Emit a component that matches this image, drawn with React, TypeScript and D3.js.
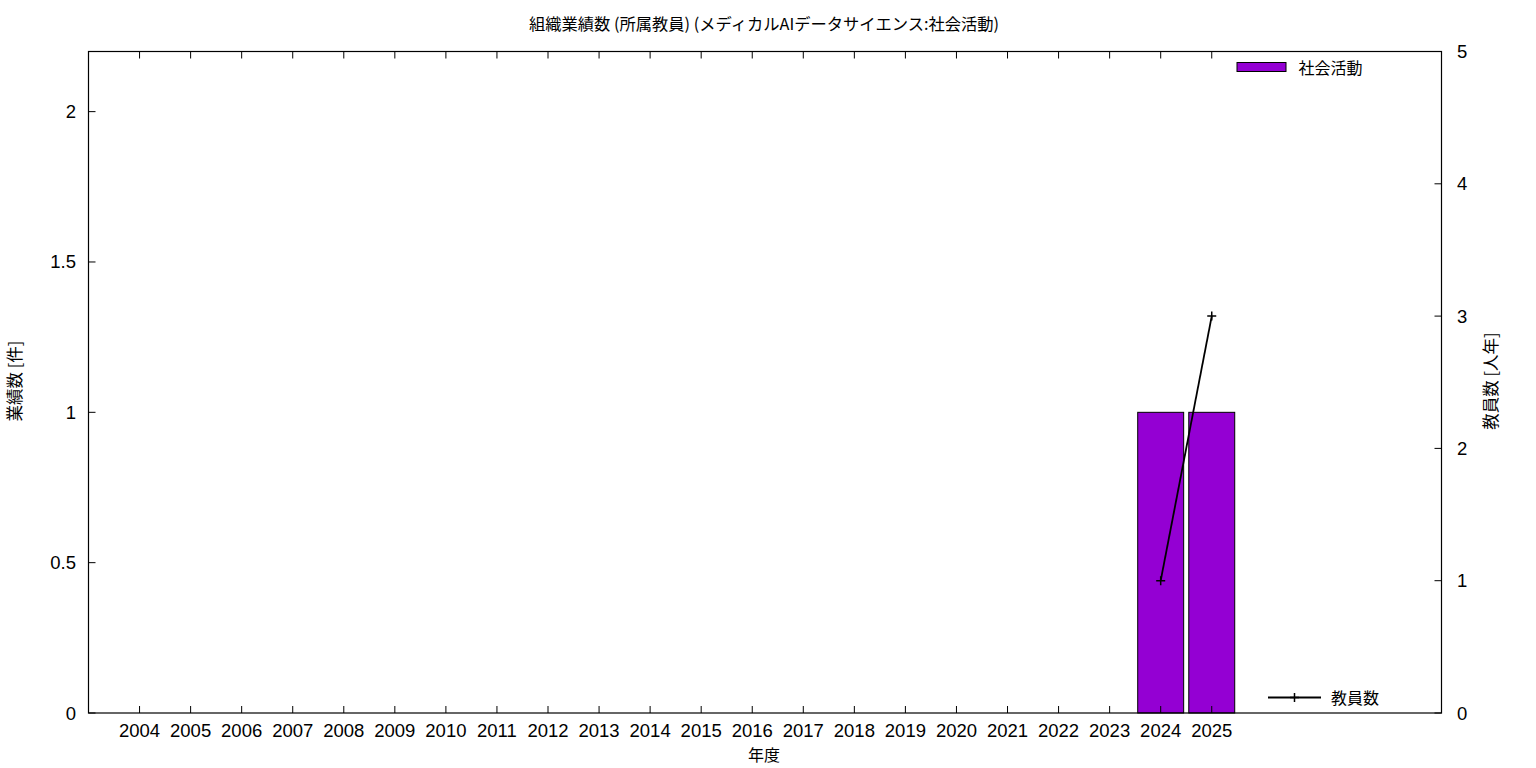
import React from "react";
import * as d3 from "d3";

const years: string[] = ["2004","2005","2006","2007","2008","2009","2010","2011","2012","2013","2014","2015","2016","2017","2018","2019","2020","2021","2022","2023","2024","2025"];
const activityCounts: number[] = [0,0,0,0,0,0,0,0,0,0,0,0,0,0,0,0,0,0,0,0,1,1];
const facultyCounts: (number | null)[] = [null,null,null,null,null,null,null,null,null,null,null,null,null,null,null,null,null,null,null,null,1,3];
const leftTicks: number[] = [0, 0.5, 1, 1.5, 2];
const rightTicks: number[] = [0, 1, 2, 3, 4, 5];

const TITLE = "組織業績数 (所属教員) (メディカルAIデータサイエンス:社会活動)";
const XLABEL = "年度";
const YLABEL = "業績数 [件]";
const Y2LABEL = "教員数 [人年]";
const BAR_LEGEND = "社会活動";
const LINE_LEGEND = "教員数";

const FONT = "'Liberation Sans', 'Noto Sans CJK JP', sans-serif";
const JFONT = "'Noto Sans CJK JP', sans-serif";

export default function App() {
  const W = 1536, H = 768;
  const L = 88.5, R = 1441.5, T = 51.5, B = 713;
  const x = d3.scaleLinear().domain([-1, 25.5]).range([L, R]);
  const y = d3.scaleLinear().domain([0, 2.2]).range([B, T]);
  const y2 = d3.scaleLinear().domain([0, 5]).range([B, T]);
  const step = x(1) - x(0);
  const bw = step * 0.9;
  const line = d3.line<[number, number | null]>()
    .defined(d => d[1] !== null)
    .x(d => x(d[0]))
    .y(d => y2(d[1] as number));
  const linePts: [number, number | null][] = facultyCounts.map((v, i) => [i, v]);
  const plus = (cx: number, cy: number, k: string) => (
    <path key={k} d={`M${cx - 4.5},${cy}H${cx + 4.5}M${cx},${cy - 4.5}V${cy + 4.5}`} stroke="#000" strokeWidth={1.5} />
  );
  return (
    <svg width={W} height={H} style={{ position: "absolute", left: 0, top: 0, background: "#fff" }}>
      <rect x={0} y={0} width={W} height={H} fill="#fff" />
      <text x={764} y={30} textAnchor="middle" fontFamily={JFONT} fontSize={16.3} fill="#000">{TITLE}</text>
      {/* bars */}
      {activityCounts.map((v, i) => v > 0 ? (
        <rect key={"b" + i} x={x(i) - bw / 2} y={y(v)} width={bw} height={y(0) - y(v)} fill="#9400D3" stroke="#000" strokeWidth={1} />
      ) : null)}
      {/* x ticks */}
      {years.map((yr, i) => (
        <g key={"xt" + i}>
          <line x1={x(i)} x2={x(i)} y1={B} y2={B - 7} stroke="#000" strokeWidth={1} />
          <line x1={x(i)} x2={x(i)} y1={T} y2={T + 7} stroke="#000" strokeWidth={1} />
          <text x={x(i)} y={B + 23.5} textAnchor="middle" fontFamily={FONT} fontSize={18.5} fill="#000">{yr}</text>
        </g>
      ))}
      {leftTicks.map((t, i) => (
        <g key={"yt" + i}>
          <line x1={L} x2={L + 7} y1={y(t)} y2={y(t)} stroke="#000" strokeWidth={1} />
          <text x={76} y={y(t) + 6.5} textAnchor="end" fontFamily={FONT} fontSize={18.5} fill="#000">{t}</text>
        </g>
      ))}
      {rightTicks.map((t, i) => (
        <g key={"y2t" + i}>
          <line x1={R} x2={R - 7} y1={y2(t)} y2={y2(t)} stroke="#000" strokeWidth={1} />
          <text x={1457} y={y2(t) + 6.5} textAnchor="start" fontFamily={FONT} fontSize={18.5} fill="#000">{t}</text>
        </g>
      ))}
      <rect x={L} y={T} width={R - L} height={B - T} fill="none" stroke="#000" strokeWidth={1.2} />
      {/* line */}
      <path d={line(linePts) || ""} fill="none" stroke="#000" strokeWidth={1.8} />
      {linePts.filter(d => d[1] !== null).map((d, i) => plus(x(d[0]), y2(d[1] as number), "p" + i))}
      {/* legends */}
      <rect x={1237} y={62.5} width={49} height={9} fill="#9400D3" stroke="#000" strokeWidth={1} />
      <text x={1298.5} y={73.5} fontFamily={JFONT} fontSize={16} fill="#000">{BAR_LEGEND}</text>
      <line x1={1268} x2={1321} y1={697.5} y2={697.5} stroke="#000" strokeWidth={1.8} />
      {plus(1294.5, 697.5, "lp")}
      <text x={1331} y={703.5} fontFamily={JFONT} fontSize={16} fill="#000">{LINE_LEGEND}</text>
      {/* axis labels */}
      <text x={764} y={761} textAnchor="middle" fontFamily={JFONT} fontSize={16} fill="#000">{XLABEL}</text>
      <text transform={`translate(21,381) rotate(-90)`} textAnchor="middle" fontFamily={JFONT} fontSize={16.5} fill="#000">{YLABEL}</text>
      <text transform={`translate(1497,381) rotate(-90)`} textAnchor="middle" fontFamily={JFONT} fontSize={16.5} fill="#000">{Y2LABEL}</text>
    </svg>
  );
}
